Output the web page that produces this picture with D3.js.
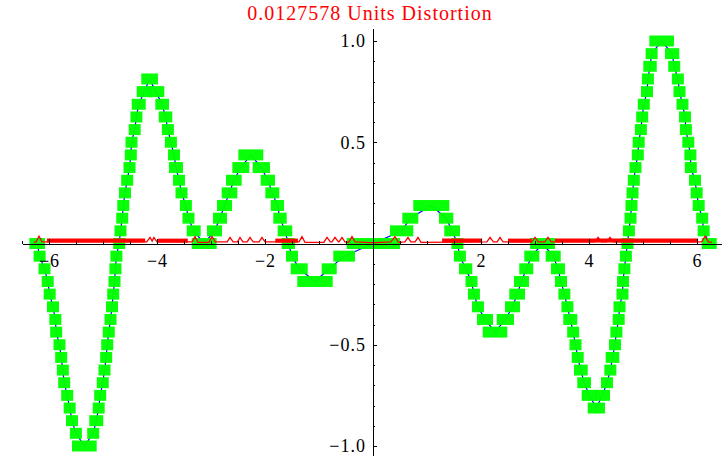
<!DOCTYPE html>
<meta charset="utf-8">
<style>

body {
  margin: 0;
  background: #fff;
}

svg {
  display: block;
}

.axis path,
.axis line {
  fill: none;
  stroke: #000;
  shape-rendering: crispEdges;
}

.axis text {
  font: 18px "Liberation Serif", serif;
  fill: #000;
  letter-spacing: 1px;
}

.title {
  font: 20px "Liberation Serif", serif;
  fill: #f00;
  letter-spacing: 1px;
}

</style>
<body>
<script src="https://d3js.org/d3.v7.min.js"></script>
<script>

var titleText = "0.0127578 Units Distortion";

// axis ticks
var xMajor = [-6, -4, -2, 2, 4, 6];
var xMinor = [-6.5, -5.5, -5, -4.5, -3.5, -3, -2.5, -1.5, -1, -0.5,
              0.5, 1, 1.5, 2.5, 3, 3.5, 4.5, 5, 5.5, 6.5];
var yMajor = [-1, -0.5, 0.5, 1];
var yMinor = [-0.9, -0.8, -0.7, -0.6, -0.4, -0.3, -0.2, -0.1,
              0.1, 0.2, 0.3, 0.4, 0.6, 0.7, 0.8, 0.9];

// quantized signal: one entry per run of equal samples (level, first x, last x)
var qLevel = [
  0, -0.0625, -0.125, -0.1875, -0.25, -0.3125, -0.375, -0.4375, -0.5, -0.5625,
  -0.625, -0.6875, -0.75, -0.8125, -0.875, -0.9375, -1, -0.9375, -0.875, -0.8125,
  -0.75, -0.6875, -0.625, -0.5625, -0.5, -0.4375, -0.375, -0.3125, -0.25, -0.1875,
  -0.125, -0.0625, 0, 0.0625, 0.125, 0.1875, 0.25, 0.3125, 0.375, 0.4375,
  0.5, 0.5625, 0.625, 0.6875, 0.75, 0.8125, 0.75, 0.6875, 0.625, 0.5625,
  0.5, 0.4375, 0.375, 0.3125, 0.25, 0.1875, 0.125, 0.0625, 0, 0.0625,
  0.125, 0.1875, 0.25, 0.3125, 0.375, 0.4375, 0.375, 0.3125, 0.25, 0.1875,
  0.125, 0.0625, 0, -0.0625, -0.125, -0.1875, -0.125, -0.0625, 0, 0.0625,
  0.125, 0.1875, 0.125, 0.0625, 0, -0.0625, -0.125, -0.1875, -0.25, -0.3125,
  -0.375, -0.4375, -0.375, -0.3125, -0.25, -0.1875, -0.125, -0.0625, 0, -0.0625,
  -0.125, -0.1875, -0.25, -0.3125, -0.375, -0.4375, -0.5, -0.5625, -0.625, -0.6875,
  -0.75, -0.8125, -0.75, -0.6875, -0.625, -0.5625, -0.5, -0.4375, -0.375, -0.3125,
  -0.25, -0.1875, -0.125, -0.0625, 0, 0.0625, 0.125, 0.1875, 0.25, 0.3125,
  0.375, 0.4375, 0.5, 0.5625, 0.625, 0.6875, 0.75, 0.8125, 0.875, 0.9375,
  1, 0.9375, 0.875, 0.8125, 0.75, 0.6875, 0.625, 0.5625, 0.5, 0.4375,
  0.375, 0.3125, 0.25, 0.1875, 0.125, 0.0625, 0
];
var qStart = [
  -6.252, -6.174, -6.083, -6.024, -5.987, -5.926, -5.883, -5.867, -5.806, -5.774,
  -5.744, -5.719, -5.663, -5.617, -5.574, -5.502, -5.463, -5.181, -5.143, -5.080,
  -5.052, -5.004, -4.972, -4.941, -4.922, -4.893, -4.861, -4.833, -4.811, -4.787,
  -4.770, -4.752, -4.700, -4.676, -4.644, -4.624, -4.593, -4.552, -4.509, -4.485,
  -4.472, -4.413, -4.381, -4.357, -4.265, -4.180, -4.074, -3.920, -3.857, -3.798,
  -3.743, -3.685, -3.667, -3.593, -3.546, -3.465, -3.417, -3.339, -3.246, -2.963,
  -2.852, -2.778, -2.691, -2.611, -2.494, -2.383, -2.117, -1.969, -1.883, -1.783,
  -1.735, -1.654, -1.580, -1.500, -1.413, -1.291, -0.839, -0.624, -0.376, 0.426,
  0.654, 0.857, 1.333, 1.431, 1.563, 1.609, 1.704, 1.824, 1.869, 1.944,
  2.037, 2.143, 2.402, 2.556, 2.635, 2.722, 2.820, 2.913, 3.019, 3.309,
  3.407, 3.481, 3.544, 3.600, 3.635, 3.707, 3.750, 3.791, 3.833, 3.894,
  3.976, 4.087, 4.220, 4.333, 4.396, 4.420, 4.481, 4.507, 4.550, 4.565,
  4.620, 4.630, 4.655, 4.683, 4.713, 4.739, 4.769, 4.787, 4.806, 4.830,
  4.861, 4.904, 4.920, 4.961, 4.985, 5.015, 5.074, 5.091, 5.117, 5.160,
  5.228, 5.519, 5.578, 5.646, 5.676, 5.731, 5.778, 5.794, 5.839, 5.878,
  5.885, 5.963, 5.994, 6.031, 6.096, 6.124, 6.198
];
var qEnd = [
  -6.185, -6.174, -6.083, -6.024, -5.987, -5.926, -5.883, -5.867, -5.806, -5.774,
  -5.744, -5.719, -5.663, -5.617, -5.574, -5.502, -5.228, -5.181, -5.106, -5.080,
  -5.052, -5.004, -4.972, -4.941, -4.922, -4.893, -4.861, -4.833, -4.811, -4.787,
  -4.770, -4.752, -4.700, -4.676, -4.644, -4.624, -4.593, -4.552, -4.509, -4.485,
  -4.472, -4.413, -4.381, -4.320, -4.204, -4.093, -3.976, -3.889, -3.828, -3.798,
  -3.743, -3.685, -3.630, -3.593, -3.546, -3.465, -3.417, -3.302, -3.006, -2.907,
  -2.815, -2.722, -2.624, -2.543, -2.402, -2.143, -2.019, -1.926, -1.846, -1.759,
  -1.709, -1.606, -1.556, -1.500, -1.320, -0.857, -0.783, -0.444, 0.389, 0.635,
  0.728, 1.302, 1.376, 1.500, 1.563, 1.609, 1.728, 1.824, 1.869, 1.944,
  2.111, 2.376, 2.500, 2.611, 2.704, 2.778, 2.857, 2.969, 3.259, 3.365,
  3.444, 3.481, 3.544, 3.600, 3.672, 3.707, 3.750, 3.791, 3.865, 3.926,
  4.040, 4.185, 4.278, 4.333, 4.396, 4.450, 4.481, 4.507, 4.550, 4.565,
  4.620, 4.630, 4.655, 4.683, 4.713, 4.739, 4.769, 4.787, 4.806, 4.830,
  4.861, 4.904, 4.920, 4.961, 4.985, 5.015, 5.074, 5.091, 5.143, 5.160,
  5.463, 5.561, 5.578, 5.646, 5.676, 5.731, 5.778, 5.794, 5.839, 5.878,
  5.885, 5.963, 5.994, 6.031, 6.096, 6.124, 6.254
];

// distortion: dense stretches (solid band) and the thin trace between them
var redBandStart = [-6.04, -3.98, -1.81, 1.28, 2.50, 3.37];
var redBandEnd   = [-4.22, -3.43, -1.39, 2.02, 2.94, 6.02];
var redBandLevel = [0.0143, 0.0143, 0.0143, 0.0143, 0.0143, 0.0143];

var redX = [
  -6.28, -6.24, -6.185, -6.13, -4.19, -4.13, -4.09, -4.056, -4.0, -3.35,
  -3.296, -3.24, -3.04, -2.981, -2.92, -2.70, -2.648, -2.59, -2.51, -2.463,
  -2.41, -2.33, -2.278, -2.22, -2.11, -2.056, -2.0, -1.37, -1.315, -1.26,
  -0.91, -0.852, -0.79, -0.76, -0.704, -0.64, -0.63, -0.574, -0.52, -0.45,
  -0.389, -0.33, -0.05, 0.05, 0.33, 0.407, 0.47, 0.59, 0.648, 0.70,
  0.78, 0.833, 0.89, 2.11, 2.167, 2.23, 2.30, 2.352, 2.41, 2.94,
  3.0, 3.06, 3.18, 3.24, 3.30, 4.11, 4.167, 4.23, 4.33, 4.389,
  4.45, 6.09, 6.148, 6.21, 6.28
];
var redY = [
  0.006, 0.008, 0.036, 0.008, 0.008, 0.03, 0.012, 0.03, 0.008, 0.008,
  0.034, 0.006, 0.006, 0.034, 0.008, 0.008, 0.03, 0.008, 0.008, 0.03,
  0.008, 0.008, 0.03, 0.008, 0.008, 0.03, 0.008, 0.008, 0.034, 0.006,
  0.006, 0.03, 0.008, 0.008, 0.03, 0.008, 0.008, 0.03, 0.008, 0.006,
  0.034, 0.008, 0.004, 0.004, 0.008, 0.034, 0.006, 0.008, 0.03, 0.008,
  0.008, 0.03, 0.006, 0.008, 0.03, 0.008, 0.008, 0.03, 0.008, 0.008,
  0.03, 0.008, 0.008, 0.03, 0.008, 0.008, 0.03, 0.008, 0.008, 0.03,
  0.008, 0.008, 0.036, 0.008, 0.006
];

var width = 722,
    height = 456;

var x = d3.scaleLinear()
    .domain([-6.5, 6.5])
    .range([22, 724]);

var y = d3.scaleLinear()
    .domain([-1, 1])
    .range([446, 41]);

var svg = d3.select("body").append("svg")
    .attr("width", width)
    .attr("height", height);

var runs = qLevel.map(function(v, i) {
  return {level: v, x0: qStart[i], x1: qEnd[i]};
});

// original signal, mostly hidden under the quantized points
var blueLine = d3.line()
    .x(function(d) { return x((d.x0 + d.x1) / 2); })
    .y(function(d) { return y(d.level); });

svg.append("path")
    .datum(runs)
    .attr("d", blueLine)
    .attr("fill", "none")
    .attr("stroke", "#0000ff")
    .attr("stroke-width", 1.2);

svg.selectAll("rect.q")
    .data(runs)
  .enter().append("rect")
    .attr("class", "q")
    .attr("x", function(d) { return x(d.x0) - 6; })
    .attr("width", function(d) { return x(d.x1) - x(d.x0) + 12; })
    .attr("y", function(d) { return y(d.level) - 5.5; })
    .attr("height", 11)
    .attr("fill", "#00ff00")
    .attr("fill-opacity", 0.97);

// distortion trace
var redPts = redX.map(function(v, i) { return [v, redY[i]]; });
svg.append("path")
    .datum(redPts)
    .attr("d", d3.line()
      .x(function(d) { return x(d[0]); })
      .y(function(d) { return y(d[1]); }))
    .attr("fill", "none")
    .attr("stroke", "#ff0000")
    .attr("stroke-width", 1.3);

svg.selectAll("line.band")
    .data(redBandStart)
  .enter().append("line")
    .attr("class", "band")
    .attr("x1", function(d) { return x(d); })
    .attr("x2", function(d, i) { return x(redBandEnd[i]); })
    .attr("y1", function(d, i) { return y(redBandLevel[i]); })
    .attr("y2", function(d, i) { return y(redBandLevel[i]); })
    .attr("stroke", "#ff0000")
    .attr("stroke-width", 4);

// axes through the origin
var xAxisG = svg.append("g")
    .attr("class", "axis")
    .attr("transform", "translate(0," + y(0) + ")");

xAxisG.call(d3.axisBottom(x)
    .tickValues(xMajor)
    .tickSizeInner(-5)
    .tickSizeOuter(0)
    .tickPadding(11)
    .tickFormat(d3.format("d")));

xAxisG.append("g").call(d3.axisBottom(x)
    .tickValues(xMinor)
    .tickSizeInner(-3)
    .tickSizeOuter(0)
    .tickFormat(""))
  .select(".domain").remove();

var yAxisScale = y.copy()
    .domain([-1.052, 1.064])
    .range([y(-1.052), y(1.064)]);

var yAxisG = svg.append("g")
    .attr("class", "axis")
    .attr("transform", "translate(" + x(0) + ",0)");

yAxisG.call(d3.axisLeft(yAxisScale)
    .tickValues(yMajor)
    .tickSizeInner(-4)
    .tickSizeOuter(0)
    .tickPadding(7)
    .tickFormat(d3.format(".1f")));

yAxisG.append("g").call(d3.axisLeft(yAxisScale)
    .tickValues(yMinor)
    .tickSizeInner(-2)
    .tickSizeOuter(0)
    .tickFormat(""))
  .select(".domain").remove();

svg.selectAll(".axis text").style("font-family", "'Liberation Serif', serif");

svg.append("text")
    .attr("class", "title")
    .attr("x", 370)
    .attr("y", 20)
    .attr("text-anchor", "middle")
    .text(titleText);

</script>
